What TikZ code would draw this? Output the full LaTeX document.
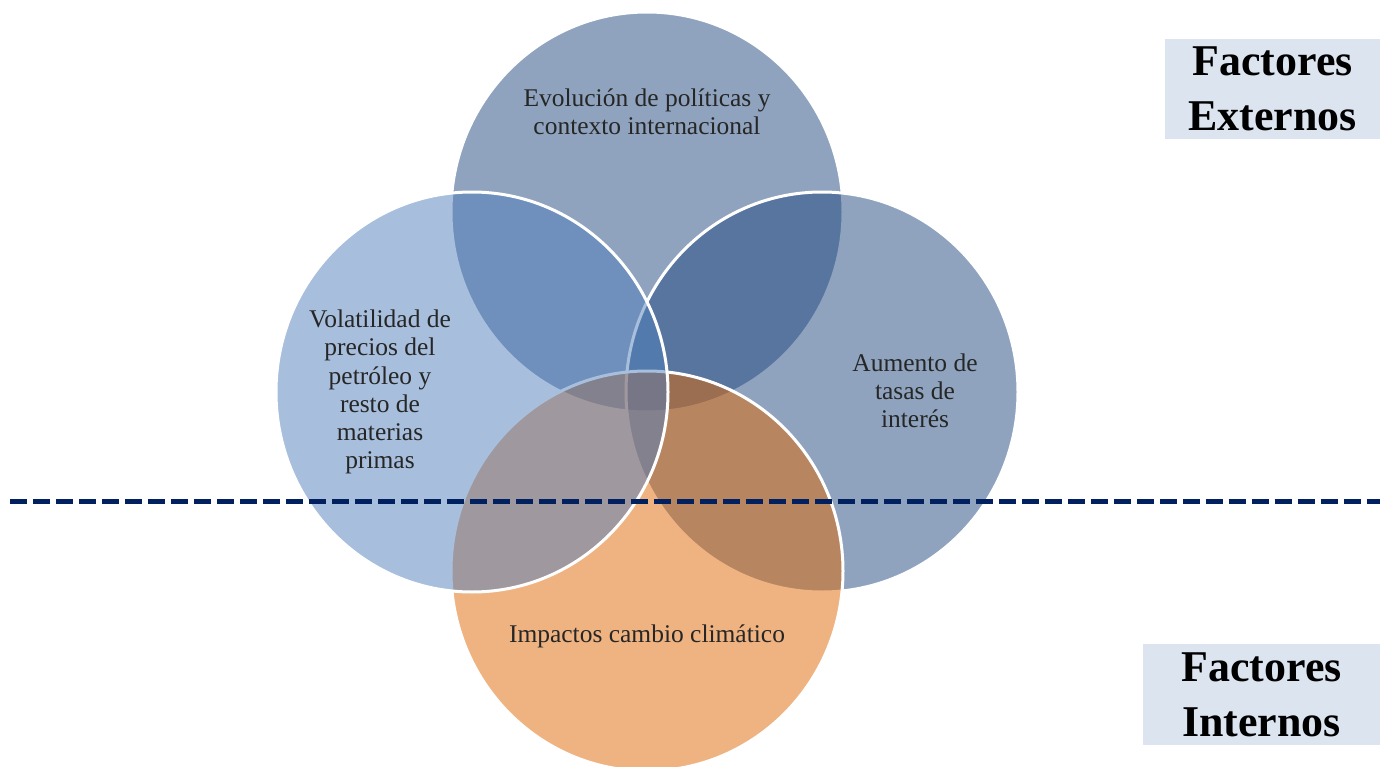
\documentclass[tikz,border=0pt]{standalone}
\usepackage{fontspec}
\setmainfont{Liberation Serif}
\usepackage{tikz}

\definecolor{azulT}{RGB}{33,73,127}
\definecolor{azulL}{RGB}{81,127,187}
\definecolor{naranja}{RGB}{225,105,5}
\definecolor{marino}{RGB}{0,32,96}
\definecolor{caja}{RGB}{220,228,240}

\tikzset{
    venn/.style={draw=white, line width=0.06cm, fill opacity=0.5},
    txt/.style={align=center, text=black!85, font=\fontsize{14.5}{16}\selectfont},
    factor/.style={fill=caja, align=center, inner sep=0pt,
        font=\fontsize{25}{31.3}\selectfont\bfseries},
}

\begin{document}
\begin{tikzpicture}[x=0.02cm, y=-0.02cm]
        \useasboundingbox (0,0) rectangle (1380,767);
        \fill[white] (0,0) rectangle (1380,767);
        \draw[venn, fill=azulT] (647,212) ellipse [x radius=196, y radius=200];
        \draw[venn, fill=azulT] (822,392) ellipse [x radius=196, y radius=200];
        \draw[venn, fill=naranja] (647,571) ellipse [x radius=196, y radius=200];
        \draw[venn, fill=azulL] (472,392) ellipse [x radius=196, y radius=200];
        \node[txt] (evol) at (647,112) {Evolución de políticas y\\contexto internacional};
        \node[txt] (vol) at (380,392) {Volatilidad de\\precios del\\petróleo y\\resto de\\materias\\primas};
        \node[txt] (tasas) at (915,391) {Aumento de\\tasas de\\interés};
        \node[txt, anchor=base] (clima) at (647,642) {Impactos cambio climático};
        \coordinate (lineaI) at (10,501);
        \coordinate (lineaD) at (1380,501);
        \draw[marino, line width=0.1cm, dash pattern=on 0.34cm off 0.12cm] (lineaI) -- (lineaD);
        \node[factor, minimum width=4.3cm, minimum height=2cm] (ext) at (1272.5,89) {Factores\\Externos};
        \node[factor, minimum width=4.74cm, minimum height=2.02cm] (int) at (1261.5,694.5) {Factores\\Internos};
    \end{tikzpicture}
\end{document}
